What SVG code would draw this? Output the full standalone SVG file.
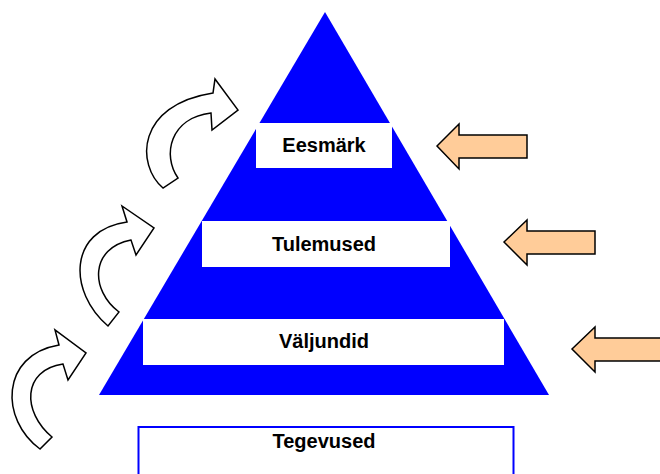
<svg xmlns="http://www.w3.org/2000/svg" width="660" height="474" viewBox="0 0 660 474">
<style>
.lbl{font-family:"Liberation Sans",Arial,sans-serif;font-weight:bold;font-size:20px;fill:#000;text-anchor:middle}
.box{fill:#fff;stroke:none}
.in{fill:#FFCC99;stroke:#000;stroke-width:1.5;stroke-linejoin:miter}
.cv{fill:#fff;stroke:#000;stroke-width:1.5}
</style>
<rect width="660" height="474" fill="#fff"/>
<g id="pyramid">
<polygon points="325,12 99,395 549,395" fill="#0000FF"/>
</g>
<g id="eesmark">
<rect class="box" x="256" y="123" width="136" height="45"/>
<text class="lbl" x="324" y="152">Eesmärk</text>
</g>
<g id="tulemused">
<rect class="box" x="202" y="221" width="248" height="46"/>
<text class="lbl" x="324" y="251">Tulemused</text>
</g>
<g id="valjundid">
<rect class="box" x="143" y="319" width="361" height="46"/>
<text class="lbl" x="324" y="348">Väljundid</text>
</g>
<g id="tegevused">
<rect x="138.5" y="427" width="375" height="60" fill="#fff" stroke="#0000FF" stroke-width="2"/>
<text class="lbl" x="324" y="448">Tegevused</text>
</g>
<g id="connectors">
<path class="in" d="M437,146 L459,124 L459,135 L527,135 L527,158 L459,158 L459,169 Z"/>
<path class="in" d="M504,242 L527,220 L527,231 L595,231 L595,254 L527,254 L527,265 Z"/>
<path class="in" d="M572,349 L595,327 L595,338 L662,338 L662,361 L595,361 L595,372 Z"/>
<path class="cv" d="M163,188 C136,165 136,105 213,93 L215,79 L238,110 L212,130 L211,113 C170,118 162,155 178,178 Z"/>
<path class="cv" d="M108,326 C68,292 68,230 127,222 L122,206 L154,228 L136,255 L131,240 C90,248 90,290 119,312 Z"/>
<path class="cv" d="M40,449 C0,420 0,355 59,345 L55,330 L86,353 L68,380 L63,364 C22,370 22,412 52,437 Z"/>
</g>
</svg>
